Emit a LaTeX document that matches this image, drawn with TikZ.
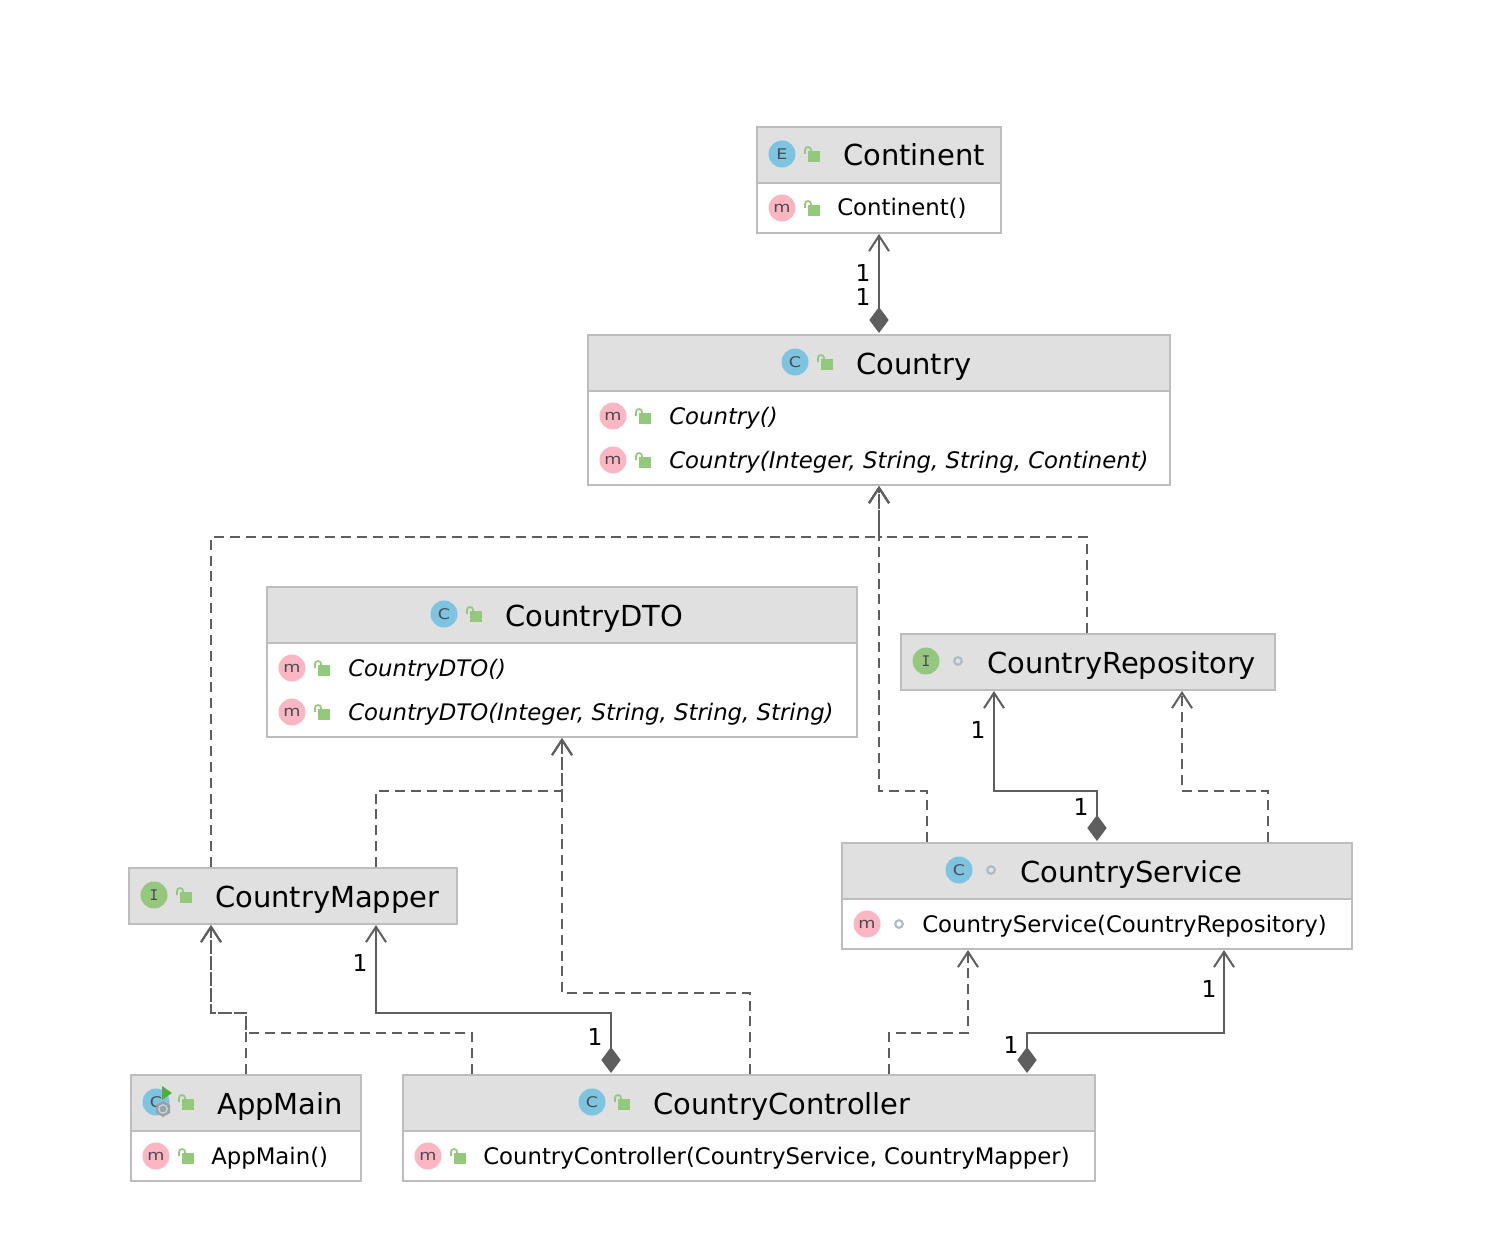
\documentclass[tikz,border=0pt]{standalone}
\usepackage{fontspec}
\setmainfont{DejaVu Sans}
\newfontfamily\iconfont[FakeStretch=1.2]{DejaVu Sans}
\newfontfamily\monofont{DejaVu Sans Mono}
\usetikzlibrary{arrows.meta,calc}
\definecolor{hdr}{HTML}{E0E0E0}
\definecolor{bord}{HTML}{BDBDBD}
\definecolor{conn}{HTML}{5E5E5E}
\definecolor{icoC}{HTML}{7CC4DF}
\definecolor{icoM}{HTML}{FBB6C3}
\definecolor{icoI}{HTML}{96C77E}
\definecolor{lockg}{HTML}{93C97B}
\definecolor{dotg}{HTML}{AEBBC4}
\definecolor{letter}{HTML}{4A4A50}
\definecolor{runtri}{HTML}{4FAF3C}
\tikzset{
  x=0.75pt,y=-0.75pt,
  classbox/.style={draw=bord,line width=1.5pt,inner sep=0pt,anchor=north west,fill=white},
  hdrbox/.style={draw=bord,line width=1.5pt,fill=hdr},
  title/.style={anchor=base west,inner sep=0pt,font=\fontsize{21.7pt}{26pt}\selectfont},
  member/.style={anchor=base west,inner sep=0pt,font=\fontsize{17.1pt}{22pt}\selectfont},
  mult/.style={inner sep=0pt,font=\fontsize{17.5pt}{22pt}\selectfont},
  icon/.style={circle,inner sep=0pt,minimum size=20.25pt,text=letter,font=\fontsize{11pt}{12pt}\iconfont},
  dep/.style={draw=conn,line width=1.6pt,dash pattern=on 7.5pt off 4.4pt,-{Straight Barb[length=11.5pt,width=15pt,line width=1.5pt]}},
  assoc/.style={draw=conn,line width=1.6pt,shorten <=0.75pt,{Diamond[length=19.5pt,width=14.5pt,fill=conn,sep=0pt]}-{Straight Barb[length=11.5pt,width=15pt,line width=1.5pt]}},
}
\newcommand{\classbox}[7]{% name x1 y1 x2 y2 ydiv(or y2) -
  \path[hdrbox] (#2,#3) rectangle (#4,#6);
  \ifnum#6<#5\relax\path[classbox] (#2,#6) rectangle (#4,#5);\fi
  \node[inner sep=0pt,minimum width={(#4-#2)*0.75pt},minimum height={(#5-#3)*0.75pt},draw=bord,line width=1.5pt] (#1) at ({(#2+#4)/2},{(#3+#5)/2}) {};
}
\newcommand{\ico}[5]{\node[icon,fill=#4] (ic#1) at (#2,#3) {#5};}
\newcommand{\lock}[2]{\begin{scope}[shift={(#1,#2)}]
  \fill[lockg] (-4,-3) rectangle (8,8);
  \draw[lockg,line width=1.3pt] (-7,0) -- (-7,-4) arc[start angle=180,end angle=360,radius=3] -- (-1,-2);
\end{scope}}
\newcommand{\pkg}[2]{\draw[dotg,line width=1.6pt] (#1,#2) circle[radius=3.8];}
\begin{document}
\begin{tikzpicture}
\useasboundingbox (0,0) rectangle (1488,1248);
\classbox{continent}{757}{127}{1001}{233}{183}{}
\classbox{country}{588}{335}{1170}{485}{391}{}
\classbox{dto}{267}{587}{857}{737}{643}{}
\classbox{repo}{901}{634}{1275}{690}{690}{}
\classbox{mapper}{129}{868}{457}{924}{924}{}
\classbox{service}{842}{843}{1352}{949}{899}{}
\classbox{appmain}{131}{1075}{361}{1181}{1131}{}
\classbox{controller}{403}{1075}{1095}{1181}{1131}{}
% titles
\node[title] (tContinent) at (843,166) {Continent};
\node[title] (tCountry) at (856,374) {Country};
\node[title] (tDTO) at (505,626) {CountryDTO};
\node[title] (tRepo) at (987,673) {CountryRepository};
\node[title] (tMapper) at (215,907) {CountryMapper};
\node[title] (tService) at (1020,882) {CountryService};
\node[title] (tApp) at (217,1114) {AppMain};
\node[title] (tCtrl) at (653,1114) {CountryController};
% members
\node[member] (m1) at (837,216) {Continent()};
\node[member] (m2) at (669,424) {\itshape Country()};
\node[member] (m3) at (669,468) {\itshape Country(Integer, String, String, Continent)};
\node[member] (m4) at (348,676) {\itshape CountryDTO()};
\node[member] (m5) at (348,720) {\itshape CountryDTO(Integer, String, String, String)};
\node[member] (m6) at (922,932) {CountryService(CountryRepository)};
\node[member] (m7) at (211,1164) {AppMain()};
\node[member] (m8) at (483,1164) {CountryController(CountryService, CountryMapper)};
% icons
\ico{a}{782}{154}{icoC}{E}\lock{812}{154}
\ico{b}{782}{208}{icoM}{\raisebox{-0.75pt}{m}}\lock{812}{208}
\ico{c}{795}{362}{icoC}{C}\lock{825}{362}
\ico{d}{613}{416}{icoM}{\raisebox{-0.75pt}{m}}\lock{643}{416}
\ico{e}{613}{460}{icoM}{\raisebox{-0.75pt}{m}}\lock{643}{460}
\ico{f}{444}{614}{icoC}{C}\lock{474}{614}
\ico{g}{292}{668}{icoM}{\raisebox{-0.75pt}{m}}\lock{322}{668}
\ico{h}{292}{712}{icoM}{\raisebox{-0.75pt}{m}}\lock{322}{712}
\ico{i}{926}{661}{icoI}{\monofont I}\pkg{958}{661}
\ico{j}{154}{895}{icoI}{\monofont I}\lock{184}{895}
\ico{k}{959}{870}{icoC}{C}\pkg{991}{870}
\ico{l}{867}{924}{icoM}{\raisebox{-0.75pt}{m}}\pkg{899}{924}
\ico{n}{156}{1102}{icoC}{C}\lock{186}{1102}
\fill[runtri] (162,1086) -- (172,1093) -- (162,1100) -- cycle;
\fill[gray!75] (163,1101) -- (170,1105) -- (170,1113) -- (163,1117) -- (156,1113) -- (156,1105) -- cycle;
\draw[icoC!55!white,line width=0.9pt] (163,1109) circle[radius=4.2];
\ico{o}{156}{1156}{icoM}{\raisebox{-0.75pt}{m}}\lock{186}{1156}
\ico{p}{592}{1102}{icoC}{C}\lock{622}{1102}
\ico{q}{428}{1156}{icoM}{\raisebox{-0.75pt}{m}}\lock{458}{1156}
% named connector ends
\coordinate (jTop) at (879,537);
\coordinate (jDTO) at (562,791);
\coordinate (jApp) at (246,1013);
% dependencies
\draw[dep] ($(mapper.north west)+(83,0)$) |- (jTop) -- (country.south);
\draw[dep] ($(repo.north west)+(187,0)$) |- (jTop) -- (country.south);
\draw[dep] ($(service.north west)+(86,0)$) |- (879,791) -- (country.south);
\draw[dep] ($(mapper.north west)+(248,0)$) |- (jDTO) -- ($(dto.south west)+(296,0)$);
\draw[dep] ($(controller.north west)+(348,0)$) |- (562,993) -- ($(dto.south west)+(296,0)$);
\draw[dep] ($(service.north west)+(427,0)$) |- (1182,791) -- ($(repo.south west)+(282,0)$);
\draw[dep] ($(appmain.north west)+(116,0)$) |- (211,1013) -- ($(mapper.south west)+(83,0)$);
\draw[dep] ($(controller.north west)+(70,0)$) |- (246,1033) -- (jApp) -| ($(mapper.south west)+(83,0)$);
\draw[dep] ($(controller.north west)+(487,0)$) |- (968,1033) -- ($(service.south west)+(127,0)$);
% associations
\draw[assoc] (country.north) -- (continent.south);
\draw[assoc] ($(service.north west)+(256,0)$) |- (994,791) -- ($(repo.south west)+(94,0)$);
\draw[assoc] ($(controller.north west)+(209,0)$) |- (376,1013) -- ($(mapper.south west)+(248,0)$);
\draw[assoc] ($(controller.north west)+(625,0)$) |- (1224,1033) -- ($(service.south west)+(383,0)$);
% multiplicities
\node[mult] (n1) at (863,272.5) {1};
\node[mult] (n2) at (863,296.5) {1};
\node[mult] (n3) at (978,729.5) {1};
\node[mult] (n4) at (1081,806.5) {1};
\node[mult] (n5) at (360,962.5) {1};
\node[mult] (n6) at (595,1036.5) {1};
\node[mult] (n7) at (1209,988.5) {1};
\node[mult] (n8) at (1011,1044.5) {1};
\end{tikzpicture}
\end{document}
